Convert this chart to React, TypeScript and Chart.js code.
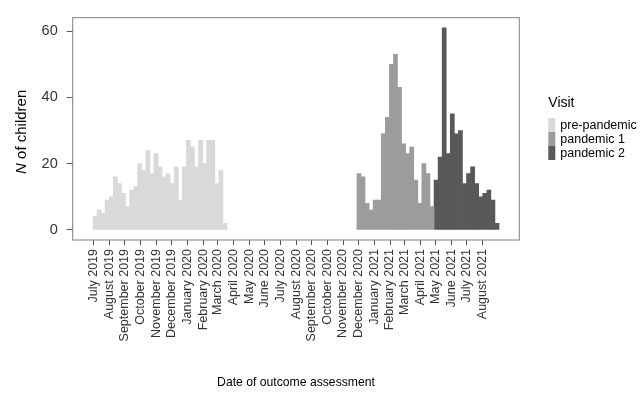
import React, { useEffect, useRef } from "react";
import { Chart, registerables } from "chart.js";

Chart.register(...registerables);

// ---- data ----
const visitLabels = ["pre-pandemic", "pandemic 1", "pandemic 2"];
const visitColors = ["#d9d9d9", "#9c9c9c", "#585858"];

// counts per histogram bin (100 equal bins over the assessment period)
const prePandemic = [4, 6, 5, 9, 10, 16, 14, 11, 7, 12, 13, 20, 18, 24, 17, 23, 19, 16, 17, 14, 19, 9, 19, 27, 25, 19, 27, 20, 27, 27, 14, 18, 2];
const pandemic1 = [17, 16, 8, 6, 9, 9, 29, 34, 50, 53, 43, 26, 23, 25, 15, 8, 20, 17, 7];
const pandemic2 = [15, 22, 61, 23, 35, 29, 30, 14, 17, 19, 14, 10, 11, 12, 9, 2];
const seriesStartBin = [0, 65, 84];

const monthTickLabels = [
  "July 2019", "August 2019", "September 2019", "October 2019", "November 2019", "December 2019",
  "January 2020", "February 2020", "March 2020", "April 2020", "May 2020", "June 2020",
  "July 2020", "August 2020", "September 2020", "October 2020", "November 2020", "December 2020",
  "January 2021", "February 2021", "March 2021", "April 2021", "May 2021", "June 2021",
  "July 2021", "August 2021",
];
const yTickValues = [0, 20, 40, 60];

// ---- binning (days relative to 1 July 2019) ----
const DAY_MS = 86400000;
const ORIGIN = Date.UTC(2019, 6, 1);
const BIN_COUNT = 100;
const FIRST_BIN_LEFT = -0.6;
const BIN_WIDTH = 7.95;

const FONT = "'Liberation Sans', Arial, Helvetica, sans-serif";

const monthTickValues = monthTickLabels.map((_, i) => (Date.UTC(2019, 6 + i, 1) - ORIGIN) / DAY_MS);
const binCenter = (b: number) => FIRST_BIN_LEFT + BIN_WIDTH * (b + 0.5);
const dataLeft = FIRST_BIN_LEFT;
const dataRight = FIRST_BIN_LEFT + BIN_WIDTH * BIN_COUNT;
const xPad = 0.05 * (dataRight - dataLeft);
const yMaxData = Math.max(...prePandemic, ...pandemic1, ...pandemic2);
const yPad = 0.05 * yMaxData;

const seriesValues = [prePandemic, pandemic1, pandemic2];

const decorations = {
  id: "decorations",
  afterDraw(chart: any) {
    const { ctx, chartArea: a } = chart;
    ctx.save();
    // panel border
    ctx.strokeStyle = "#7f7f7f";
    ctx.lineWidth = 1;
    ctx.strokeRect(a.left, a.top, a.right - a.left, a.bottom - a.top);

    // y axis title with italic N
    ctx.save();
    ctx.translate(22, (a.top + a.bottom) / 2 + 3);
    ctx.rotate(-Math.PI / 2);
    const italic = `italic 15px ${FONT}`;
    const normal = `15px ${FONT}`;
    ctx.font = italic;
    const w1 = ctx.measureText("N").width;
    ctx.font = normal;
    const w2 = ctx.measureText(" of children").width;
    const x0 = -(w1 + w2) / 2;
    ctx.textBaseline = "middle";
    ctx.textAlign = "left";
    ctx.fillStyle = "#000";
    ctx.font = italic;
    ctx.fillText("N", x0, 0);
    ctx.font = normal;
    ctx.fillText(" of children", x0 + w1, 0);
    ctx.restore();

    // legend
    const lx = a.right + 29;
    ctx.fillStyle = "#000";
    ctx.font = `14px ${FONT}`;
    ctx.textBaseline = "middle";
    ctx.textAlign = "left";
    ctx.fillText("Visit", lx, 103);
    visitLabels.forEach((lab, i) => {
      const top = 118 + i * 14;
      ctx.fillStyle = visitColors[i];
      ctx.fillRect(lx, top, 7, 14);
      ctx.fillStyle = "#000";
      ctx.font = `12.5px ${FONT}`;
      ctx.fillText(lab, lx + 12, top + 7.5);
    });
    ctx.restore();
  },
};

export default function App() {
  const ref = useRef<HTMLCanvasElement | null>(null);
  useEffect(() => {
    if (!ref.current) return;
    const chart = new Chart(ref.current, {
      type: "bar",
      data: {
        datasets: seriesValues.map((vals, s) => ({
          label: visitLabels[s],
          data: vals.map((v, j) => ({ x: binCenter(seriesStartBin[s] + j), y: v })),
          backgroundColor: visitColors[s],
          borderWidth: 0,
          grouped: false,
          barPercentage: 1,
          categoryPercentage: 1,
        })),
      } as any,
      options: {
        responsive: false,
        animation: false,
        devicePixelRatio: 1,
        layout: { padding: { left: 0, top: 14.5, right: 123.7, bottom: 0 } },
        plugins: { legend: { display: false }, tooltip: { enabled: false } },
        scales: {
          x: {
            type: "linear",
            offset: false,
            min: dataLeft - xPad,
            max: dataRight + xPad,
            afterBuildTicks: (s: any) => {
              s.ticks = monthTickValues.map((v) => ({ value: v }));
            },
            afterFit: (s: any) => {
              s.height = 158;
            },
            ticks: {
              autoSkip: false,
              minRotation: 90,
              maxRotation: 90,
              padding: 4,
              color: "#333",
              font: { family: FONT, size: 12.5 },
              callback: (_v: any, i: number) => monthTickLabels[i],
            },
            grid: { display: true, offset: false, drawOnChartArea: false, drawTicks: true, tickLength: 5, color: "#555", lineWidth: 1 },
            border: { display: false },
            title: {
              display: true,
              text: "Date of outcome assessment",
              color: "#000",
              font: { family: FONT, size: 12.2 },
              padding: { top: 0, bottom: 8 },
            },
          },
          y: {
            type: "linear",
            min: -yPad,
            max: yMaxData + yPad,
            afterBuildTicks: (s: any) => {
              s.ticks = yTickValues.map((v) => ({ value: v }));
            },
            afterFit: (s: any) => {
              s.width = 72.7;
            },
            ticks: {
              padding: 9,
              color: "#333",
              font: { family: FONT, size: 14.5 },
              callback: (v: any) => String(v),
            },
            grid: { display: true, drawOnChartArea: false, drawTicks: true, tickLength: 6, color: "#555", lineWidth: 1 },
            border: { display: false },
          },
        },
      } as any,
      plugins: [decorations],
    });
    return () => chart.destroy();
  }, []);
  return (
    <div style={{ position: "fixed", left: 0, top: 0, width: 643, height: 398, background: "#fff" }}>
      <canvas ref={ref} width={643} height={398} />
    </div>
  );
}
